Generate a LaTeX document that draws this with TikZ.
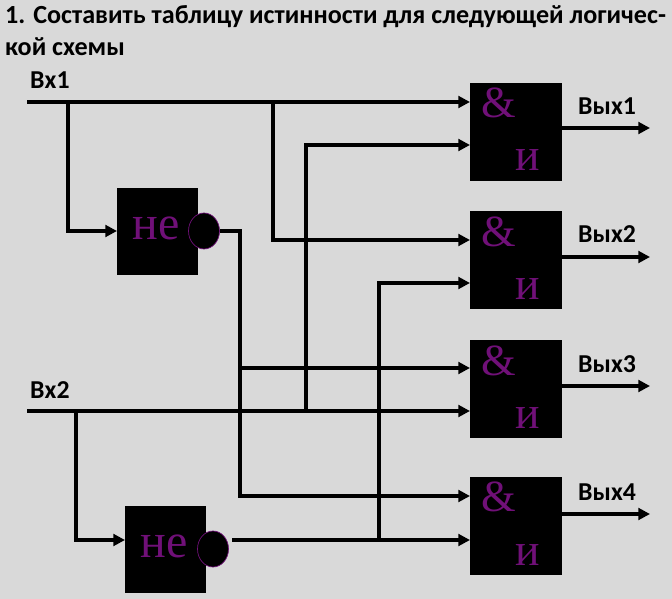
\documentclass[tikz,border=0pt]{standalone}
\usepackage{fontspec}
\setmainfont{Carlito}
\newfontfamily\gatefont{Liberation Serif}
\usetikzlibrary{arrows.meta,shapes.geometric}
\definecolor{bggray}{RGB}{217,217,217}
\definecolor{gatepurple}{RGB}{112,16,120}
\tikzset{
	andgate/.style={shape=rectangle,fill=black,inner sep=0pt,minimum width=2.76cm,minimum height=2.94cm},
	notgate/.style={shape=rectangle,fill=black,inner sep=0pt,minimum width=2.43cm,minimum height=2.61cm},
	bubble/.style={shape=ellipse,fill=black,draw=gatepurple,line width=0.6pt,inner sep=0pt,minimum width=0.93cm,minimum height=1.08cm},
	wire/.style={draw,line width=3.3pt,line join=miter},
	arrowwire/.style={wire,-{Triangle[length=10pt,width=10pt]}},
	gatetext/.style={text=gatepurple,inner sep=0pt,font=\gatefont\fontsize{39}{39}\selectfont},
	nottext/.style={text=gatepurple,inner sep=0pt,font=\gatefont\fontsize{41}{41}\selectfont},
	ampertext/.style={text=gatepurple,inner sep=0pt,font=\gatefont\fontsize{38}{38}\selectfont},
	label/.style={anchor=base west,inner sep=0pt,font=\bfseries\fontsize{22}{22}\selectfont},
	heading/.style={anchor=base west,inner sep=0pt,font=\bfseries\fontsize{22.3}{22.3}\selectfont}
}
\begin{document}
\begin{tikzpicture}[x=0.03cm,y=-0.03cm]

	\path[use as bounding box,fill=bggray] (0,0) rectangle (672,599);

	\node[heading] (title1) at (5,24) {1. Составить таблицу истинности для следующей логичес-};
	\node[heading] (title2) at (5,56) {кой схемы};

	\node[label] (vx1) at (30,89) {Вх1};
	\node[label] (vx2) at (30,398) {Вх2};
	\node[label] (out1) at (578,115) {Вых1};
	\node[label] (out2) at (578,243) {Вых2};
	\node[label] (out3) at (578,372) {Вых3};
	\node[label] (out4) at (578,500) {Вых4};

	\node[andgate] (and1) at (516,132) {};
	\node[andgate] (and2) at (516,260) {};
	\node[andgate] (and3) at (516,389) {};
	\node[andgate] (and4) at (516,526) {};
	\node[notgate] (not1) at (157.5,231.5) {};
	\node[notgate] (not2) at (165.5,549.5) {};
	\node[bubble] (b1) at (204,231) {};
	\node[bubble] (b2) at (213,549) {};

	\node[ampertext] (amp1) at (499,103) {\&};
	\node[ampertext] (amp2) at (499,232) {\&};
	\node[ampertext] (amp3) at (499,361) {\&};
	\node[ampertext] (amp4) at (499,497) {\&};
	\node[gatetext] (i1) at (528,160) {и};
	\node[gatetext] (i2) at (528,289) {и};
	\node[gatetext] (i3) at (528,418) {и};
	\node[gatetext] (i4) at (528,555) {и};
	\node[nottext] (ne1) at (156,228) {не};
	\node[nottext] (ne2) at (164,546) {не};

	\coordinate (s1) at (27,102);
	\coordinate (s2) at (27,411);
	\coordinate (j1) at (68,102);
	\coordinate (j2) at (273,102);
	\coordinate (j3) at (76,411);
	\coordinate (j4) at (306,411);
	\coordinate (j5) at (240,231);
	\coordinate (j6) at (240,368);
	\coordinate (j7) at (232,540);
	\coordinate (j8) at (379,540);
	\coordinate (a1) at (470,102);
	\coordinate (a2) at (470,145);
	\coordinate (a3) at (470,240);
	\coordinate (a4) at (470,283);
	\coordinate (a5) at (470,368);
	\coordinate (a6) at (470,411);
	\coordinate (a7) at (470,496);
	\coordinate (a8) at (470,540);
	\coordinate (n1) at (117,231);
	\coordinate (n2) at (125,540);
	\coordinate (e1) at (650,128);
	\coordinate (e2) at (650,257);
	\coordinate (e3) at (650,386);
	\coordinate (e4) at (650,514);

	\path[arrowwire] (s1) -- (a1);
	\path[arrowwire] (s2) -- (a6);
	\path[arrowwire] (j1) |- (n1);
	\path[arrowwire] (j2) |- (a3);
	\path[arrowwire] (j3) |- (n2);
	\path[arrowwire] (j4) |- (a2);
	\path[arrowwire] (b1.east) -- (j5) |- (a7);
	\path[arrowwire] (j6) -- (a5);
	\path[arrowwire] (j7) -- (a8);
	\path[arrowwire] (j8) |- (a4);
	\path[arrowwire] (and1.east |- e1) -- (e1);
	\path[arrowwire] (and2.east |- e2) -- (e2);
	\path[arrowwire] (and3.east |- e3) -- (e3);
	\path[arrowwire] (and4.east |- e4) -- (e4);

\end{tikzpicture}
\end{document}
